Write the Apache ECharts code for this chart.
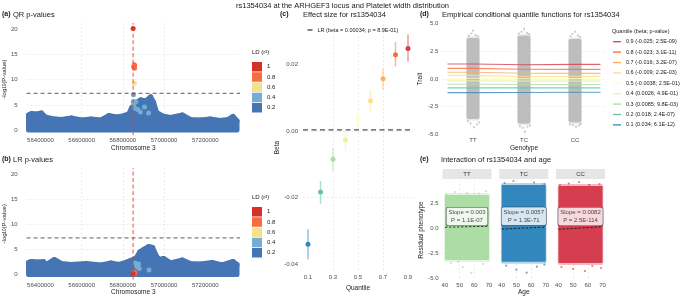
<!DOCTYPE html>
<html>
<head>
<meta charset="utf-8">
<script src="https://cdn.jsdelivr.net/npm/echarts@6/dist/echarts.min.js"></script>
<style>
html,body{margin:0;padding:0;background:#ffffff;}
#chart{width:685px;height:297px;}
</style>
</head>
<body>
<div id="chart"></div>
<script>
// ================= DATA =================
const chromTicks = [56400000, 56600000, 56800000, 57000000, 57200000];
const pTicks = [0, 5, 10, 15, 20];
const leadSnpPos = 56849749;
const gwsThreshold = 7.3;

// upper edge of the dense cloud of SNPs (LD < 0.2)
const qrEnvPos = [56342000, 56356600, 56380700, 56404800, 56424100, 56453000, 56501200, 56549400, 56597600, 56645800, 56694000, 56732500, 56766300, 56800000, 56828900, 56843400, 56867500, 56886700, 56910800, 56934900, 56949400, 56963900, 56992800, 57031300, 57089200, 57127700, 57175900, 57224100, 57272300, 57310800, 57334900, 57354200];
const qrEnvVal = [3.0, 3.3, 3.2, 3.4, 2.6, 2.3, 2.1, 2.4, 2.0, 2.2, 2.0, 2.9, 2.6, 2.8, 3.2, 4.5, 5.5, 6.0, 5.8, 6.6, 5.5, 3.5, 2.8, 2.5, 3.0, 2.1, 2.0, 2.2, 1.9, 2.1, 2.7, 1.8];
const lrEnvPos = [56342000, 56356600, 56395200, 56414500, 56428900, 56467500, 56501200, 56549400, 56621700, 56694000, 56742200, 56780700, 56814500, 56838600, 56862700, 56881900, 56901200, 56925300, 56944600, 56959000, 56973500, 56997600, 57031300, 57089200, 57127700, 57175900, 57233700, 57281900, 57334900, 57354200];
const lrEnvVal = [2.4, 2.6, 2.5, 2.6, 2.0, 3.0, 2.2, 2.0, 2.2, 1.9, 2.3, 2.0, 2.4, 2.8, 3.2, 4.5, 5.0, 5.6, 5.4, 4.0, 3.0, 3.2, 2.3, 2.9, 2.2, 2.1, 2.4, 1.9, 2.6, 2.0];

const ldLevels = ['1', '0.8', '0.6', '0.4', '0.2'];
const qrLd1 = [[56849749, 20.2]];
const qrLd08 = [[56852500, 12.6], [56855500, 13.0], [56857500, 12.8], [56856500, 12.3]];
const qrLd06 = [[56856000, 9.3]];
const qrLd04 = [[56851500, 7.0], [56850500, 5.6], [56853500, 5.1], [56858000, 4.4], [56863000, 5.6], [56872000, 4.1], [56885000, 3.6], [56905000, 4.6], [56925000, 3.4]];
const lrLd1 = [[56849749, 0.15]];
const lrLd08 = [[56853000, 0.3], [56856000, 0.45], [56858500, 0.2], [56855000, 0.1]];
const lrLd06 = [[56857000, 0.35]];
const lrLd04 = [[56861000, 2.3], [56866000, 1.9], [56870000, 1.5], [56876000, 2.1], [56880000, 1.2], [56927000, 0.9]];

const quantiles = [0.1, 0.2, 0.3, 0.4, 0.5, 0.6, 0.7, 0.8, 0.9];
const quantTicks = [0.1, 0.3, 0.5, 0.7, 0.9];
const qrBeta = [-0.0341, -0.0184, -0.0085, -0.0027, 0.0038, 0.0091, 0.0157, 0.0229, 0.0248];
const qrLo = [-0.0386, -0.0219, -0.0121, -0.0060, 0.0006, 0.0058, 0.0123, 0.0194, 0.0208];
const qrHi = [-0.0296, -0.0151, -0.0052, 0.0006, 0.0070, 0.0122, 0.0188, 0.0267, 0.0290];
const betaTicks = [-0.04, -0.02, 0, 0.02];
const lrBeta = 0.00034;
const lrLabel = 'LR (beta = 0.00034; p = 8.9E-01)';

const genotypes = ['TT', 'TC', 'CC'];
const traitTicks = [-5, -2.5, 0, 2.5, 5];
const traitLow = [-3.6, -4.0, -3.9];
const traitHigh = [3.7, 3.9, 3.6];
const traitOutliers = [[1.0, 4.35], [0.97, 4.1], [1.05, 3.95], [1.1, 3.85], [0.92, 3.9], [1.02, -4.35], [0.95, -4.0], [1.08, -4.1], [1.12, -3.9], [0.9, -3.8],
  [2.0, 4.5], [1.95, 4.25], [2.06, 4.15], [2.1, 4.05], [1.9, 4.1], [2.02, -4.75], [1.97, -4.4], [2.07, -4.3], [2.12, -4.2], [1.92, -4.25],
  [3.0, 4.25], [2.95, 4.05], [3.06, 3.9], [3.1, 3.8], [2.91, 3.85], [3.02, -4.3], [2.96, -4.15], [3.08, -4.2], [3.11, -4.05], [2.9, -4.1]];
const quantLabels = ['0.1 (0.034; 6.1E-12)', '0.2 (0.018; 2.4E-07)', '0.3 (0.0085; 9.8E-03)', '0.4 (0.0026; 4.9E-01)', '0.5 (-0.0038; 2.5E-01)', '0.6 (-0.009; 2.2E-03)', '0.7 (-0.016; 3.2E-07)', '0.8 (-0.023; 3.1E-11)', '0.9 (-0.025; 2.5E-09)'];
const qLineTT = [-1.23, -0.80, -0.47, -0.17, 0.07, 0.33, 0.61, 0.96, 1.35];
const qLineTC = [-1.21, -0.80, -0.49, -0.19, 0.02, 0.22, 0.52, 0.88, 1.28];
const qLineCC = [-1.20, -0.80, -0.49, -0.19, 0.03, 0.24, 0.51, 0.87, 1.32];

const ageTicks = [40, 50, 60, 70];
const residTicks = [-5, -2.5, 0, 2.5];
const ageRange = [40, 70];
const residLow = [-3.2, -3.4, -3.5];
const residHigh = [3.3, 4.3, 4.2];
const residOutliers = [
  [[41, 3.4], [47, 3.6], [55, 3.5], [63, 3.45], [68, 3.7], [44, -3.5], [52, -3.9], [58, -4.5], [66, -3.6], [49, -3.4]],
  [[42, 4.5], [48, 4.7], [56, 4.9], [62, 4.55], [69, 4.4], [43, -3.8], [50, -4.2], [57, -4.5], [64, -3.9], [69, -3.7]],
  [[41, 4.3], [47, 4.45], [54, 4.6], [61, 4.3], [68, 4.4], [42, -3.9], [50, -4.1], [58, -4.3], [63, -3.8], [69, -4.0]]
];
const regStart = [0.08, -0.13, -0.13];
const regEnd = [0.17, 0.07, 0.13];
const slopeValues = ['0.003', '0.0057', '0.0082'];
const slopeP = ['1.1E-07', '1.3E-71', '2.5E-114'];
const slopeLabelPos = [55, 1.15];

// ================= STYLE =================
const FONT = 'Liberation Sans, Arial, sans-serif';
const ldColors = ['#D73027', '#F46D43', '#F5E08E', '#74ADD1', '#4575B4'];
const qColors = ['#3288BD', '#66C2A5', '#ABDDA4', '#E6F598', '#FFFFBF', '#FEE08B', '#FDAE61', '#F46D43', '#D53E4F'];
const genoColors = ['#ABDDA4', '#3288BD', '#D53E4F'];
const gridLine = {show: true, showMinLine: false, showMaxLine: false, lineStyle: {color: '#e0e0e0', width: 0.6, type: [2, 2]}};
const tickText = {fontSize: 6, color: '#4d4d4d', fontFamily: FONT};
const nameText = {fontSize: 6.5, color: '#1a1a1a', fontFamily: FONT};

// layout (pixels)
const A = {left: 25, top: 23, width: 215, height: 112.2};
const B = {left: 25, top: 168, width: 215, height: 112.2};
const C = {left: 303, top: 24, width: 110, height: 256.5};
const D = {left: 442.4, top: 22.4, width: 163.2, height: 113.2};
const E_LEFTS = [442.5, 499.25, 556];
const E = {top: 180, width: 49, height: 100};
const chromRange = [56332530, 57368675];
const pRange = [-1.035, 21.29];

function axis(opts) {
  const o = {
    type: 'value', gridIndex: opts.g, min: opts.min, max: opts.max,
    axisLine: {show: false}, axisTick: {show: false, customValues: opts.ticks},
    axisLabel: Object.assign({}, tickText, {show: opts.labels !== false, customValues: opts.ticks, margin: opts.margin, formatter: opts.fmt}),
    splitLine: gridLine
  };
  if (opts.name) {
    o.name = opts.name; o.nameLocation = 'middle'; o.nameGap = opts.nameGap;
    o.nameTextStyle = Object.assign({}, nameText, opts.nameStyle || {});
    if (opts.rot) o.nameRotate = 90;
  }
  return o;
}

const grids = [A, B, C, D].concat(E_LEFTS.map(l => ({left: l, top: E.top, width: E.width, height: E.height})));

const fmtPlain = v => String(v);
const fmtBeta = v => v.toFixed(2);
const fmt1 = v => v.toFixed(1);

const xAxes = [
  axis({g: 0, min: chromRange[0], max: chromRange[1], ticks: chromTicks, margin: 2.5, fmt: fmtPlain, name: 'Chromosome 3', nameGap: 8}),
  axis({g: 1, min: chromRange[0], max: chromRange[1], ticks: chromTicks, margin: 2.5, fmt: fmtPlain, name: 'Chromosome 3', nameGap: 8}),
  axis({g: 2, min: 0.06, max: 0.94, ticks: quantTicks, margin: 3, fmt: fmt1, name: 'Quantile', nameGap: 8}),
  axis({g: 3, min: 0.4, max: 3.6, ticks: [1, 2, 3], margin: 2, fmt: v => genotypes[Math.round(v) - 1], name: 'Genotype', nameGap: 8}),
  axis({g: 4, min: 38.33, max: 71.67, ticks: ageTicks, margin: 2.5, fmt: fmtPlain}),
  axis({g: 5, min: 38.33, max: 71.67, ticks: ageTicks, margin: 2.5, fmt: fmtPlain, name: 'Age', nameGap: 9}),
  axis({g: 6, min: 38.33, max: 71.67, ticks: ageTicks, margin: 2.5, fmt: fmtPlain})
];
const logName = '-log{s|10}(P-value)';
const logRich = {s: {fontSize: 4.5, verticalAlign: 'bottom', fontFamily: FONT, color: '#1a1a1a'}};
const yAxes = [
  axis({g: 0, min: pRange[0], max: pRange[1], ticks: pTicks, margin: 9, fmt: fmtPlain, name: logName, nameGap: 16, rot: true, nameStyle: {fontSize: 6, rich: logRich}}),
  axis({g: 1, min: pRange[0], max: pRange[1], ticks: pTicks, margin: 9, fmt: fmtPlain, name: logName, nameGap: 16, rot: true, nameStyle: {fontSize: 6, rich: logRich}}),
  axis({g: 2, min: -0.04217, max: 0.03217, ticks: betaTicks, margin: 5, fmt: fmtBeta, name: 'Beta', nameGap: 17, rot: true}),
  axis({g: 3, min: -5.1, max: 5.1, ticks: traitTicks, margin: 4, fmt: fmt1, name: 'Trait', nameGap: 16, rot: true}),
  axis({g: 4, min: -5.2, max: 4.8, ticks: residTicks, margin: 4, fmt: fmt1, name: 'Residual phenotype', nameGap: 17, rot: true}),
  axis({g: 5, min: -5.2, max: 4.8, ticks: residTicks, labels: false}),
  axis({g: 6, min: -5.2, max: 4.8, ticks: residTicks, labels: false})
];

// ================= SERIES =================
const series = [];

function bandSeries(ax, pos, val, color) {
  return {
    type: 'custom', xAxisIndex: ax, yAxisIndex: ax, silent: true, z: 1,
    data: pos.map((p, i) => [p, val[i]]),
    renderItem: function (params, api) {
      if (params.dataIndex !== 0) return null;
      const pts = pos.map((p, i) => api.coord([p, val[i]]));
      pts.push(api.coord([pos[pos.length - 1], 0]));
      pts.push(api.coord([pos[0], 0]));
      return {type: 'polygon', shape: {points: pts}, style: {fill: color, stroke: color, lineWidth: 5, lineJoin: 'round'}};
    }
  };
}
function refLine(ax, data, color, dash, width) {
  return {
    type: 'line', xAxisIndex: ax, yAxisIndex: ax, data: data, silent: true, z: 6,
    symbol: 'none', showSymbol: false,
    itemStyle: {color: color}, lineStyle: {color: color, type: dash, width: width, opacity: 1}
  };
}
function ldScatter(ax, name, data, color) {
  return {type: 'scatter', name: name, xAxisIndex: ax, yAxisIndex: ax, data: data, symbolSize: 5, itemStyle: {color: color, opacity: 1}, z: 3, silent: true};
}
[[0, qrEnvPos, qrEnvVal, [qrLd1, qrLd08, qrLd06, qrLd04]], [1, lrEnvPos, lrEnvVal, [lrLd1, lrLd08, lrLd06, lrLd04]]].forEach(([ax, pos, val, lds]) => {
  series.push(bandSeries(ax, pos, val, ldColors[4]));
  series.push(ldScatter(ax, '0.2', pos.map((p, i) => [p, val[i]]), ldColors[4]));
  series.push(ldScatter(ax, '0.4', lds[3], ldColors[3]));
  series.push(ldScatter(ax, '0.6', lds[2], ldColors[2]));
  series.push(ldScatter(ax, '0.8', lds[1], ldColors[1]));
  series.push(ldScatter(ax, '1', lds[0], ldColors[0]));
  series.push(refLine(ax, [[chromRange[0], gwsThreshold], [chromRange[1], gwsThreshold]], '#333333', [4, 3], 0.8));
  series.push(refLine(ax, [[leadSnpPos, pRange[0]], [leadSnpPos, pRange[1]]], '#EE3B30', [4, 2.5], 0.9));
});

// panel c
series.push({
  type: 'line', name: lrLabel, xAxisIndex: 2, yAxisIndex: 2, symbol: 'none', showSymbol: false, silent: true, z: 1,
  data: [[0.06, lrBeta], [0.94, lrBeta]],
  lineStyle: {color: '#4d4d4d', width: 1.3, type: [5, 3.5]}, itemStyle: {color: '#4d4d4d'}
});
series.push({
  type: 'custom', xAxisIndex: 2, yAxisIndex: 2, silent: true, z: 2,
  data: quantiles.map((q, i) => [q, qrLo[i], qrHi[i]]),
  renderItem: function (params, api) {
    const p1 = api.coord([api.value(0), api.value(1)]);
    const p2 = api.coord([api.value(0), api.value(2)]);
    return {type: 'line', shape: {x1: p1[0], y1: p1[1], x2: p2[0], y2: p2[1]}, style: {stroke: qColors[params.dataIndex], lineWidth: 1.4, opacity: 0.55}};
  }
});
series.push({
  type: 'scatter', xAxisIndex: 2, yAxisIndex: 2, symbolSize: 5, silent: true, z: 3,
  data: quantiles.map((q, i) => ({value: [q, qrBeta[i]], itemStyle: {color: qColors[i], opacity: 1}}))
});

// panel d
series.push({
  type: 'custom', xAxisIndex: 3, yAxisIndex: 3, silent: true, z: 1,
  data: genotypes.map((g, i) => [i + 1, traitLow[i], traitHigh[i]]),
  renderItem: function (params, api) {
    const x = api.value(0);
    const a = api.coord([x - 0.125, api.value(2)]);
    const b = api.coord([x + 0.125, api.value(1)]);
    const a2 = api.coord([x - 0.135, api.value(2) + 0.15]);
    const b2 = api.coord([x + 0.135, api.value(1) - 0.15]);
    return {type: 'group', children: [
      {type: 'rect', shape: {x: a2[0], y: a2[1], width: b2[0] - a2[0], height: b2[1] - a2[1], r: 2}, style: {fill: '#bebebe', opacity: 0.35}},
      {type: 'rect', shape: {x: a[0], y: a[1], width: b[0] - a[0], height: b[1] - a[1], r: 2}, style: {fill: '#bdbdbd'}}
    ]};
  }
});
series.push({type: 'scatter', xAxisIndex: 3, yAxisIndex: 3, data: traitOutliers, symbolSize: 2.2, itemStyle: {color: '#bdbdbd', opacity: 0.8}, silent: true, z: 1});
quantiles.forEach((q, i) => {
  series.push({
    type: 'line', name: quantLabels[i], xAxisIndex: 3, yAxisIndex: 3, symbol: 'none', silent: true, z: 4,
    data: [[0.5, qLineTT[i]], [1, qLineTT[i]], [2, qLineTC[i]], [3, qLineCC[i]], [3.5, qLineCC[i]]],
    lineStyle: {color: qColors[i], width: 1.1, opacity: 0.8}, itemStyle: {color: qColors[i]}
  });
});

// panel e
genotypes.forEach((g, i) => {
  const ax = 4 + i;
  series.push({
    type: 'custom', xAxisIndex: ax, yAxisIndex: ax, silent: true, z: 1,
    data: [[ageRange[0], residLow[i], ageRange[1], residHigh[i]]],
    renderItem: function (params, api) {
      const a = api.coord([api.value(0), api.value(3)]);
      const b = api.coord([api.value(2), api.value(1)]);
      const a2 = api.coord([api.value(0) - 0.5, api.value(3) + 0.2]);
      const b2 = api.coord([api.value(2) + 0.5, api.value(1) - 0.2]);
      return {type: 'group', children: [
        {type: 'rect', shape: {x: a2[0], y: a2[1], width: b2[0] - a2[0], height: b2[1] - a2[1], r: 2}, style: {fill: genoColors[i], opacity: 0.35}},
        {type: 'rect', shape: {x: a[0], y: a[1], width: b[0] - a[0], height: b[1] - a[1], r: 1}, style: {fill: genoColors[i]}}
      ]};
    }
  });
  series.push({type: 'scatter', xAxisIndex: ax, yAxisIndex: ax, data: residOutliers[i], symbolSize: 2.2, itemStyle: {color: genoColors[i], opacity: 0.7}, silent: true, z: 1});
  series.push({
    type: 'line', xAxisIndex: ax, yAxisIndex: ax, symbol: 'none', silent: true, z: 3,
    data: [[ageRange[0], regStart[i]], [ageRange[1], regEnd[i]]],
    lineStyle: {color: '#111', width: 0.8, type: [2.5, 1.5]}
  });
  series.push({
    type: 'scatter', xAxisIndex: ax, yAxisIndex: ax, symbolSize: 0, silent: true, z: 5,
    data: [slopeLabelPos],
    label: {
      show: true, position: 'inside', formatter: 'Slope = ' + slopeValues[i] + '\nP = ' + slopeP[i],
      fontSize: 6, lineHeight: 7.5, color: '#1a1a1a', fontFamily: FONT, align: 'center',
      backgroundColor: '#ffffff', borderColor: '#333333', borderWidth: 0.6, borderRadius: 2, padding: [1.5, 2]
    }
  });
});

// ================= TITLES / LEGENDS =================
const tStyle = {fontSize: 7.5, fontWeight: 'normal', color: '#1a1a1a', fontFamily: FONT};
const tagStyle = {fontSize: 7, fontWeight: 'bold', color: '#1a1a1a', fontFamily: FONT};
function t(text, left, top, style) { return {text: text, left: left, top: top, padding: 0, textStyle: style}; }
const titles = [
  {text: 'rs1354034 at the ARHGEF3 locus and Platelet width distribution', left: 'center', top: 2, padding: 0, textStyle: Object.assign({}, tStyle, {fontSize: 7.5})},
  t('(a)', 2, 11, tagStyle), t('QR p-values', 13, 11, tStyle),
  t('(b)', 2, 156, tagStyle), t('LR p-values', 13, 156, tStyle),
  t('(c)', 280, 11, tagStyle), t('Effect size for rs1354034', 303, 11, tStyle),
  t('(d)', 420, 11, tagStyle), t('Empirical conditional quantile functions for rs1354034', 442, 11, tStyle),
  t('(e)', 420, 156, tagStyle), t('Interaction of rs1354034 and age', 441, 156, tStyle),
  t('LD (r²)', 252, 49, {fontSize: 6, color: '#1a1a1a', fontFamily: FONT, fontWeight: 'normal'}),
  t('LD (r²)', 252, 194, {fontSize: 6, color: '#1a1a1a', fontFamily: FONT, fontWeight: 'normal'}),
  t('Quantile (beta; p-value)', 612, 28, {fontSize: 5.5, color: '#1a1a1a', fontFamily: FONT, fontWeight: 'normal'})
];
const legText = {fontSize: 6, color: '#1a1a1a', fontFamily: FONT};
const legends = [
  {data: ldLevels, orient: 'vertical', left: 252, top: 62, itemWidth: 10, itemHeight: 9.5, itemGap: 0.75, icon: 'rect', selectedMode: false, padding: 0, textStyle: legText},
  {data: ldLevels, orient: 'vertical', left: 252, top: 207, itemWidth: 10, itemHeight: 9.5, itemGap: 0.75, icon: 'rect', selectedMode: false, padding: 0, textStyle: legText},
  {data: [lrLabel], left: 307.5, top: 27, itemWidth: 5, itemHeight: 1.4, icon: 'rect', selectedMode: false, padding: 0, textStyle: {fontSize: 5.5, color: '#1a1a1a', fontFamily: FONT}},
  {data: quantLabels.slice().reverse(), orient: 'vertical', left: 613, top: 37.7, itemWidth: 8, itemHeight: 1.3, itemGap: 2.4, icon: 'rect', selectedMode: false, padding: 0, textStyle: {fontSize: 5.5, lineHeight: 8, color: '#1a1a1a', fontFamily: FONT}}
];

const stripGraphics = genotypes.map((g, i) => ({
  type: 'group', silent: true,
  children: [
    {type: 'rect', shape: {x: E_LEFTS[i], y: 169, width: E.width, height: 10}, style: {fill: '#e6e6e6'}},
    {type: 'text', style: {text: g, x: E_LEFTS[i] + E.width / 2, y: 174.3, align: 'center', verticalAlign: 'middle', fontSize: 6, fontFamily: FONT, fill: '#333333'}}
  ]
}));

const chart = echarts.init(document.getElementById('chart'), null, {renderer: 'canvas'});
chart.setOption({
  animation: false,
  backgroundColor: '#ffffff',
  textStyle: {fontFamily: FONT},
  title: titles,
  legend: legends,
  grid: grids,
  xAxis: xAxes,
  yAxis: yAxes,
  series: series,
  graphic: stripGraphics
});
</script>
</body>
</html>
